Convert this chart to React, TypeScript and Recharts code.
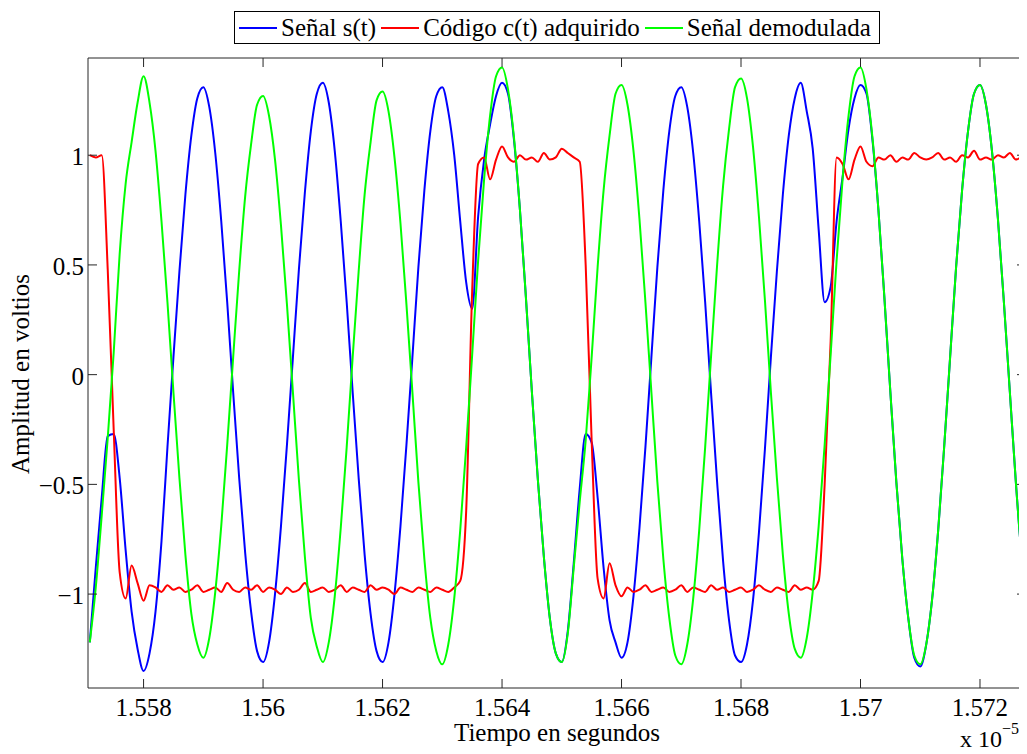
import React from "react";
import { LineChart, Line, XAxis, YAxis, Legend, ReferenceArea } from "recharts";

// tiempo en unidades de 1e-5 s
const TIME = [
  1.5571, 1.5572, 1.5573, 1.5574, 1.5575, 1.5576, 1.5577, 1.5578, 1.5579, 1.558,
  1.5581, 1.5582, 1.5583, 1.5584, 1.5585, 1.5586, 1.5587, 1.5588, 1.5589, 1.559,
  1.5591, 1.5592, 1.5593, 1.5594, 1.5595, 1.5596, 1.5597, 1.5598, 1.5599, 1.56,
  1.5601, 1.5602, 1.5603, 1.5604, 1.5605, 1.5606, 1.5607, 1.5608, 1.5609, 1.561,
  1.5611, 1.5612, 1.5613, 1.5614, 1.5615, 1.5616, 1.5617, 1.5618, 1.5619, 1.562,
  1.5621, 1.5622, 1.5623, 1.5624, 1.5625, 1.5626, 1.5627, 1.5628, 1.5629, 1.563,
  1.5631, 1.5632, 1.5633, 1.5634, 1.5635, 1.5636, 1.5637, 1.5638, 1.5639, 1.564,
  1.5641, 1.5642, 1.5643, 1.5644, 1.5645, 1.5646, 1.5647, 1.5648, 1.5649, 1.565,
  1.5651, 1.5652, 1.5653, 1.5654, 1.5655, 1.5656, 1.5657, 1.5658, 1.5659, 1.566,
  1.5661, 1.5662, 1.5663, 1.5664, 1.5665, 1.5666, 1.5667, 1.5668, 1.5669, 1.567,
  1.5671, 1.5672, 1.5673, 1.5674, 1.5675, 1.5676, 1.5677, 1.5678, 1.5679, 1.568,
  1.5681, 1.5682, 1.5683, 1.5684, 1.5685, 1.5686, 1.5687, 1.5688, 1.5689, 1.569,
  1.5691, 1.5692, 1.5693, 1.5694, 1.5695, 1.5696, 1.5697, 1.5698, 1.5699, 1.57,
  1.5701, 1.5702, 1.5703, 1.5704, 1.5705, 1.5706, 1.5707, 1.5708, 1.5709, 1.571,
  1.5711, 1.5712, 1.5713, 1.5714, 1.5715, 1.5716, 1.5717, 1.5718, 1.5719, 1.572,
  1.5721, 1.5722, 1.5723, 1.5724, 1.5725, 1.5726, 1.5727, 1.5728,
];

// Señal s(t)
const SIGNAL = [
  -1.22, -0.88, -0.56, -0.28, -0.27, -0.47, -0.8, -1.08, -1.25, -1.35,
  -1.27, -1.08, -0.76, -0.33, 0.08, 0.47, 0.82, 1.09, 1.26, 1.31,
  1.22, 1.01, 0.7, 0.33, -0.08, -0.47, -0.81, -1.08, -1.26, -1.31,
  -1.22, -1.0, -0.69, -0.32, 0.08, 0.48, 0.83, 1.11, 1.28, 1.33,
  1.24, 1.02, 0.7, 0.33, -0.08, -0.47, -0.82, -1.09, -1.26, -1.31,
  -1.22, -1.0, -0.69, -0.32, 0.08, 0.49, 0.84, 1.11, 1.27, 1.31,
  1.2, 1.0, 0.7, 0.42, 0.3, 0.72, 0.98, 1.14, 1.27, 1.33,
  1.28, 1.07, 0.75, 0.35, -0.08, -0.48, -0.83, -1.11, -1.27, -1.31,
  -1.17, -0.86, -0.52, -0.27, -0.31, -0.56, -0.88, -1.12, -1.22, -1.29,
  -1.22, -1.01, -0.7, -0.33, 0.08, 0.49, 0.84, 1.11, 1.27, 1.31,
  1.22, 1.01, 0.7, 0.33, -0.09, -0.49, -0.85, -1.12, -1.28, -1.31,
  -1.23, -1.03, -0.72, -0.34, 0.08, 0.47, 0.82, 1.09, 1.26, 1.33,
  1.2, 1.03, 0.66, 0.33, 0.4, 0.7, 0.9, 1.12, 1.26, 1.32,
  1.28, 1.07, 0.75, 0.35, -0.08, -0.49, -0.84, -1.11, -1.29, -1.33,
  -1.23, -1.02, -0.71, -0.33, 0.08, 0.49, 0.84, 1.11, 1.28, 1.32,
  1.23, 1.02, 0.71, 0.33, -0.08, -0.49, -0.84, -1.08,
];

// Código c(t) adquirido
const CODE = [
  1.0, 0.99, 1.0, 0.48, -0.25, -0.9, -1.02, -0.87, -0.95, -1.03,
  -0.96, -0.97, -0.99, -0.96, -0.98, -0.97, -0.99, -0.98, -0.96, -0.99,
  -0.98, -0.97, -0.99, -0.95, -0.98, -0.99, -0.97, -0.98, -0.96, -0.99,
  -0.97, -0.98, -1.0, -0.97, -0.99, -0.98, -0.95, -0.99, -0.98, -0.97,
  -0.99, -0.98, -0.96, -0.99, -0.97, -0.98, -0.99, -0.96, -0.98, -0.97,
  -0.98, -1.0, -0.97, -0.98, -0.99, -0.97, -0.98, -0.99, -0.97, -0.98,
  -0.99, -0.97, -0.94, -0.62, 0.38, 0.96, 0.99, 0.89, 0.98, 1.04,
  0.99, 0.97, 1.0, 0.98, 0.99, 0.97, 1.01, 0.98, 0.99, 1.03,
  1.01, 0.99, 0.97, 0.5, -0.3, -0.93, -1.02, -0.86, -0.96, -1.01,
  -0.97, -0.99, -0.98, -0.96, -0.99, -0.98, -0.97, -0.99, -0.98, -0.96,
  -0.99, -0.97, -0.98, -0.99, -0.96, -0.98, -0.97, -0.99, -0.98, -0.97,
  -0.99, -0.98, -0.96, -0.98, -0.99, -0.97, -0.98, -0.99, -0.96, -0.98,
  -0.97, -0.98, -0.94, -0.5, 0.15, 0.99, 0.96, 0.89, 0.98, 1.04,
  0.97, 0.95, 0.99, 0.98, 1.0, 0.97, 0.99, 0.98, 1.01, 0.99,
  0.98, 0.99, 1.01, 0.98, 0.99, 0.97, 1.0, 0.99, 1.02, 0.98,
  0.99, 0.98, 1.0, 0.99, 1.01, 0.98, 0.99, 0.99,
];

// Señal demodulada
const DEMOD = [
  -1.22, -0.97, -0.64, -0.29, 0.1, 0.55, 0.87, 1.06, 1.24, 1.36,
  1.24, 1.02, 0.7, 0.33, -0.08, -0.47, -0.82, -1.09, -1.23, -1.29,
  -1.2, -0.99, -0.69, -0.32, 0.08, 0.47, 0.81, 1.05, 1.23, 1.27,
  1.18, 0.98, 0.68, 0.32, -0.08, -0.48, -0.83, -1.11, -1.24, -1.31,
  -1.22, -1.01, -0.7, -0.33, 0.08, 0.47, 0.82, 1.06, 1.25, 1.29,
  1.2, 0.99, 0.69, 0.32, -0.08, -0.49, -0.84, -1.11, -1.26, -1.32,
  -1.23, -1.02, -0.71, -0.33, 0.09, 0.52, 0.89, 1.18, 1.36, 1.4,
  1.3, 1.08, 0.75, 0.35, -0.08, -0.48, -0.83, -1.11, -1.27, -1.31,
  -1.18, -0.88, -0.58, -0.3, 0.08, 0.49, 0.84, 1.09, 1.28, 1.32,
  1.23, 1.02, 0.71, 0.33, -0.08, -0.49, -0.84, -1.11, -1.28, -1.32,
  -1.23, -1.02, -0.71, -0.33, 0.09, 0.5, 0.86, 1.12, 1.31, 1.35,
  1.26, 1.04, 0.72, 0.34, -0.08, -0.47, -0.82, -1.09, -1.25, -1.29,
  -1.2, -0.99, -0.69, -0.32, 0.09, 0.52, 0.89, 1.18, 1.36, 1.4,
  1.3, 1.08, 0.75, 0.35, -0.08, -0.49, -0.84, -1.11, -1.28, -1.32,
  -1.23, -1.02, -0.71, -0.33, 0.08, 0.49, 0.84, 1.11, 1.28, 1.32,
  1.23, 1.02, 0.71, 0.33, -0.08, -0.49, -0.84, -1.08,
];

const X_TICKS = [1.558, 1.56, 1.562, 1.564, 1.566, 1.568, 1.57, 1.572];
const Y_TICKS = [-1, -0.5, 0, 0.5, 1];
const X_DOMAIN: [number, number] = [1.55707, 1.57277];
const Y_DOMAIN: [number, number] = [-1.428, 1.443];

const SERIES = [
  { key: "s", name: "Señal s(t)", color: "#0000ff" },
  { key: "c", name: "Código c(t) adquirido", color: "#ff0000" },
  { key: "d", name: "Señal demodulada", color: "#00ff00" },
];

const data = TIME.map((t, i) => ({ t, s: SIGNAL[i], c: CODE[i], d: DEMOD[i] }));

const FONT = '"Liberation Serif", "Times New Roman", serif';
const AXIS_COLOR = "#262626";
const W = 1019;
const H = 746;
const PLOT_L = 80;
const PLOT_R = 1018;
const PLOT_T = 50;
const PLOT_B = 680;
const TICK_LEN = 9;

const fmt = (v: number) => String(v).replace("-", "\u2212");

function XTick(props: any) {
  const { x, payload } = props;
  return (
    <g>
      <line x1={x} x2={x} y1={PLOT_B} y2={PLOT_B - TICK_LEN} stroke={AXIS_COLOR} />
      <line x1={x} x2={x} y1={PLOT_T} y2={PLOT_T + TICK_LEN} stroke={AXIS_COLOR} />
      <text x={x} y={708} textAnchor="middle" fontFamily={FONT} fontSize={25} fill="#000">
        {fmt(payload.value)}
      </text>
    </g>
  );
}

function YTick(props: any) {
  const { y, payload } = props;
  return (
    <g>
      <line x1={PLOT_L} x2={PLOT_L + TICK_LEN} y1={y} y2={y} stroke={AXIS_COLOR} />
      <line x1={PLOT_R} x2={PLOT_R - TICK_LEN} y1={y} y2={y} stroke={AXIS_COLOR} />
      <text x={76} y={y + 10} textAnchor="end" fontFamily={FONT} fontSize={25} fill="#000">
        {fmt(payload.value)}
      </text>
    </g>
  );
}

const xLabel = () => (
  <g fontFamily={FONT} fill="#000">
    <text x={549} y={733} textAnchor="middle" fontSize={25}>
      Tiempo en segundos
    </text>
    <text x={952} y={739} fontSize={24}>
      x 10
    </text>
    <text x={994} y={726} fontSize={16}>
      {"\u22125"}
    </text>
  </g>
);

const yLabel = () => (
  <text
    x={21}
    y={366}
    transform="rotate(-90 21 366)"
    textAnchor="middle"
    fontFamily={FONT}
    fontSize={25}
    fill="#000"
  >
    Amplitud en voltios
  </text>
);

function LegendBox() {
  return (
    <div
      style={{
        display: "flex",
        alignItems: "center",
        height: 31,
        border: "1px solid #000",
        background: "#fff",
        paddingLeft: 4,
        paddingRight: 8,
        fontFamily: FONT,
        fontSize: 25,
        lineHeight: "31px",
        whiteSpace: "nowrap",
        color: "#000",
      }}
    >
      {SERIES.map((s, i) => (
        <span key={s.key} style={{ display: "flex", alignItems: "center" }}>
          <span
            style={{
              display: "inline-block",
              width: 38,
              height: 2,
              background: s.color,
              marginRight: 4,
            }}
          />
          <span style={{ marginRight: i < SERIES.length - 1 ? 5 : 0 }}>{s.name}</span>
        </span>
      ))}
    </div>
  );
}

export default function App() {
  return (
    <LineChart
      width={W}
      height={H}
      data={data}
      margin={{ top: PLOT_T, right: W - PLOT_R, bottom: 0, left: 0 }}
    >
      <XAxis
        dataKey="t"
        type="number"
        domain={X_DOMAIN}
        ticks={X_TICKS}
        interval={0}
        allowDataOverflow
        axisLine={false}
        tickLine={false}
        height={H - PLOT_B}
        tick={XTick}
        label={xLabel}
      />
      <YAxis
        type="number"
        domain={Y_DOMAIN}
        ticks={Y_TICKS}
        interval={0}
        allowDataOverflow
        axisLine={false}
        tickLine={false}
        width={PLOT_L}
        tick={YTick}
        label={yLabel}
      />
      <Legend
        layout="horizontal"
        verticalAlign="middle"
        align="center"
        wrapperStyle={{ top: 3, left: 226, width: "auto" }}
        content={() => <LegendBox />}
      />
      {SERIES.map((s) => (
        <Line
          key={s.key}
          type="monotone"
          dataKey={s.key}
          name={s.name}
          stroke={s.color}
          strokeWidth={2}
          dot={false}
          activeDot={false}
          isAnimationActive={false}
        />
      ))}
      <ReferenceArea
        x1={X_DOMAIN[0]}
        x2={X_DOMAIN[1]}
        y1={Y_DOMAIN[0]}
        y2={Y_DOMAIN[1]}
        fill="none"
        stroke={AXIS_COLOR}
        strokeWidth={1}
        ifOverflow="visible"
      />
    </LineChart>
  );
}
